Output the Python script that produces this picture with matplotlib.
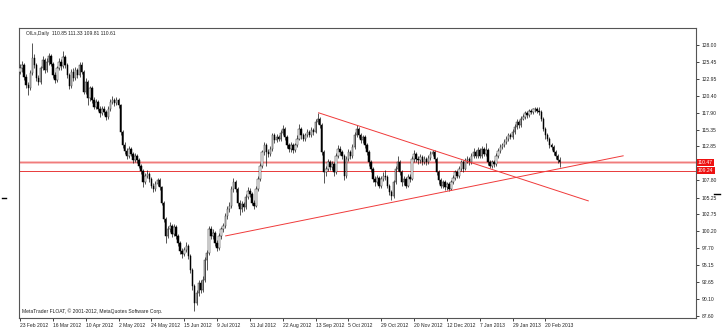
import numpy as np
import matplotlib
matplotlib.use("Agg")
import matplotlib.pyplot as plt
from matplotlib.lines import Line2D

plt.rcParams['font.family'] = ['Liberation Sans', 'DejaVu Sans']

# daily bars (open = previous close)
closes = [124.5, 125.0, 123.2, 122.0, 121.5, 123.8, 126.0, 125.0, 123.0, 122.5,
          124.5, 125.8, 124.2, 125.5, 126.3, 125.2, 123.5, 122.8, 124.5, 125.5,
          124.8, 126.2, 125.0, 123.5, 121.8, 124.0, 123.0, 124.2, 123.5, 125.0,
          124.0, 121.0, 122.5, 120.0, 121.5, 119.8, 118.8, 119.5, 118.5, 117.8,
          118.5, 118.0, 117.2, 118.5, 119.5, 119.8, 119.3, 119.8, 119.0, 115.0,
          113.0, 112.2, 111.5, 112.5, 111.8, 110.8, 111.5, 110.8, 110.0, 109.2,
          107.5, 108.5, 108.8, 108.0, 107.0, 106.5, 107.3, 107.8, 106.8, 104.5,
          102.0, 99.5, 100.5, 101.0, 99.8, 100.8, 99.5, 98.5, 97.3, 96.8,
          97.5, 98.0, 96.5, 94.5, 92.0, 89.5, 91.0, 92.5, 91.5, 93.0,
          96.0, 97.0, 100.5, 99.5, 100.0, 98.5, 97.8, 99.5, 100.5, 101.0,
          102.5, 103.5, 104.0, 106.5, 107.5, 106.5, 104.5, 103.5, 104.3, 103.8,
          105.3, 106.2, 105.8, 104.5, 104.0, 106.5, 108.0, 110.0, 112.0, 113.0,
          112.0, 111.8, 112.5, 114.5, 113.8, 114.3, 114.0, 114.8, 115.5, 114.2,
          113.0, 112.5, 113.0, 112.3, 113.0, 114.0, 115.5, 114.5, 114.0, 114.5,
          115.0, 114.6, 115.3, 115.0, 116.5, 117.0, 116.0, 112.0, 109.0, 109.5,
          110.5, 109.8, 110.2, 109.0, 111.5, 112.5, 112.0, 111.5, 108.5, 111.0,
          112.0, 111.5, 112.8, 114.5, 115.5, 114.5, 113.8, 114.2, 113.0, 112.0,
          110.5, 109.5, 108.0, 107.5, 108.2, 107.0, 108.0, 108.5, 108.3, 107.0,
          106.0, 105.5, 107.5, 109.5, 110.5, 109.0, 107.5, 108.0, 107.0, 108.3,
          108.0, 111.0, 111.8, 111.0, 110.8, 111.3, 110.5, 111.0, 110.5, 111.2,
          111.8, 112.0, 111.0, 109.0, 107.8, 107.0, 107.5, 106.8, 107.2, 106.5,
          107.5, 108.2, 109.0, 108.5, 109.5, 110.5, 109.5, 110.8, 111.0, 110.5,
          111.5, 112.0, 111.5, 112.3, 111.5, 112.5, 111.8, 112.3, 110.5, 110.0,
          110.5, 110.2, 111.5, 112.2, 112.8, 113.0, 113.5, 114.0, 114.5, 114.3,
          115.0, 115.8, 116.5, 116.0, 117.0, 117.3, 117.8, 117.5, 118.2, 118.0,
          118.4, 118.5, 118.2, 118.0, 117.0, 115.5, 114.5, 114.0, 113.0, 112.8,
          112.0, 111.5, 110.85, 110.61]

highs = [125.2, 125.6, 125.3, 123.6, 122.5, 124.2, 128.3, 126.6, 125.3, 123.5,
         124.9, 126.3, 126.0, 126.0, 126.8, 126.6, 125.5, 124.0, 124.9, 126.0,
         125.9, 127.0, 126.5, 125.3, 123.8, 124.4, 124.5, 124.7, 124.6, 125.5,
         125.4, 124.3, 123.0, 122.8, 121.9, 121.8, 120.2, 119.9, 119.8, 118.9,
         118.9, 118.9, 118.3, 118.9, 119.9, 120.3, 120.1, 120.2, 120.1, 119.2,
         115.3, 113.5, 112.6, 112.9, 112.8, 112.1, 111.9, 111.8, 111.1, 110.3,
         109.5, 108.9, 109.3, 109.1, 108.3, 107.4, 107.7, 108.2, 108.1, 107.0,
         104.8, 102.3, 101.0, 101.6, 101.3, 101.3, 101.1, 99.8, 98.8, 97.7,
         97.9, 98.6, 98.3, 96.8, 94.8, 92.3, 91.4, 93.0, 92.9, 93.5,
         96.4, 97.5, 101.0, 101.0, 100.6, 100.3, 98.9, 99.9, 100.9, 101.5,
         102.9, 104.0, 104.6, 106.9, 108.2, 107.8, 106.8, 104.9, 104.7, 104.6,
         105.8, 106.8, 106.6, 106.0, 104.9, 106.9, 108.4, 110.4, 112.4, 113.5,
         113.3, 112.5, 112.9, 114.9, 114.8, 114.7, 114.6, 115.3, 116.1, 115.8,
         114.5, 113.4, 113.5, 113.3, 113.4, 114.5, 116.2, 115.8, 114.9, 114.9,
         115.4, 115.3, 115.7, 115.6, 116.9, 117.9, 117.3, 116.3, 112.3, 110.0,
         111.0, 110.9, 110.7, 110.5, 111.9, 113.0, 112.9, 112.4, 111.8, 111.4,
         112.5, 112.4, 113.2, 115.0, 116.1, 115.8, 114.9, 114.6, 114.5, 113.3,
         112.3, 110.8, 109.8, 108.4, 108.6, 108.5, 108.4, 109.0, 109.4, 108.6,
         107.3, 106.4, 107.9, 109.9, 111.5, 110.8, 109.3, 108.5, 108.3, 108.7,
         108.8, 111.4, 112.3, 112.1, 111.4, 111.7, 111.6, 111.4, 111.3, 111.6,
         112.2, 112.4, 112.3, 111.3, 109.3, 108.1, 107.9, 107.8, 107.6, 107.5,
         107.9, 108.6, 109.4, 109.3, 109.9, 110.9, 110.8, 111.2, 111.5, 111.3,
         111.9, 112.6, 112.3, 112.7, 112.6, 112.9, 112.8, 113.4, 112.6, 110.9,
         110.9, 110.8, 111.9, 112.6, 113.2, 113.4, 113.9, 114.4, 114.9, 114.8,
         115.4, 116.2, 116.9, 116.8, 117.4, 117.7, 118.2, 118.1, 118.5, 118.5,
         118.6, 118.8, 118.7, 118.7, 118.3, 117.3, 115.8, 114.9, 114.3, 113.4,
         113.1, 112.4, 111.8, 111.33]

lows = [123.6, 124.0, 122.8, 121.5, 120.5, 121.2, 123.5, 124.5, 122.6, 122.0,
        122.2, 124.2, 123.8, 123.9, 125.0, 124.8, 123.0, 122.3, 122.5, 124.2,
        124.3, 124.5, 124.6, 123.0, 121.4, 121.5, 122.6, 122.7, 123.0, 123.2,
        123.6, 120.6, 120.7, 119.0, 119.7, 119.4, 118.4, 118.5, 118.1, 117.3,
        117.5, 117.6, 116.8, 117.0, 118.2, 119.2, 118.9, 119.0, 118.6, 114.6,
        112.6, 111.8, 111.0, 111.2, 111.4, 110.4, 110.5, 110.4, 109.6, 108.8,
        106.8, 107.2, 108.1, 107.6, 106.6, 106.0, 106.2, 107.0, 106.4, 104.1,
        101.6, 98.5, 99.2, 100.1, 99.4, 99.5, 99.1, 98.0, 96.9, 96.3,
        96.5, 97.1, 96.1, 94.0, 91.5, 88.3, 89.2, 90.6, 91.0, 91.2,
        92.7, 94.5, 96.7, 99.0, 99.1, 98.0, 97.3, 97.5, 99.1, 100.1,
        100.7, 102.1, 103.1, 103.7, 106.1, 106.0, 104.0, 102.6, 103.1, 103.3,
        103.5, 105.0, 105.3, 104.2, 103.6, 103.8, 106.2, 107.7, 109.7, 111.6,
        110.0, 111.3, 111.4, 112.2, 113.4, 113.5, 113.6, 113.7, 114.5, 113.8,
        112.6, 112.0, 112.1, 111.9, 112.0, 112.7, 113.8, 114.0, 113.6, 113.7,
        114.2, 114.2, 114.3, 114.6, 114.8, 116.2, 115.6, 111.6, 107.4, 108.5,
        109.2, 109.3, 109.4, 108.5, 108.8, 111.2, 111.6, 111.0, 107.8, 108.2,
        110.7, 111.0, 111.2, 112.5, 114.2, 114.1, 113.4, 113.4, 112.6, 111.6,
        110.0, 109.1, 107.6, 107.0, 107.2, 106.6, 106.7, 107.7, 107.9, 106.6,
        105.6, 104.9, 105.2, 107.2, 109.2, 108.6, 107.0, 107.1, 106.6, 106.8,
        107.6, 107.8, 110.6, 110.6, 110.3, 110.4, 110.1, 110.2, 110.1, 110.2,
        110.9, 111.4, 110.6, 108.6, 107.3, 106.6, 106.7, 106.4, 106.4, 106.2,
        106.3, 107.2, 107.9, 108.1, 108.2, 109.2, 109.1, 109.3, 110.4, 110.1,
        110.3, 111.2, 111.1, 111.2, 111.1, 111.2, 111.4, 111.5, 110.1, 109.6,
        109.7, 109.8, 110.0, 111.2, 111.9, 112.5, 112.7, 113.2, 113.7, 113.9,
        114.0, 114.7, 115.5, 115.6, 115.7, 116.8, 117.0, 117.1, 117.2, 117.7,
        117.7, 118.0, 117.8, 117.6, 116.6, 115.1, 114.0, 113.6, 112.6, 112.3,
        111.6, 111.0, 110.4, 109.81]

first_open = 124.0
date_labels = ["23 Feb 2012", "16 Mar 2012", "10 Apr 2012", "2 May 2012", "24 May 2012",
               "15 Jun 2012", "9 Jul 2012", "31 Jul 2012", "22 Aug 2012", "13 Sep 2012",
               "5 Oct 2012", "29 Oct 2012", "20 Nov 2012", "12 Dec 2012", "7 Jan 2013",
               "29 Jan 2013", "20 Feb 2013"]
label_step = 16
price_ticks = [128.00, 125.45, 122.95, 120.40, 117.90, 115.35, 112.85,
               107.80, 105.25, 102.75, 100.20, 97.70, 95.15, 92.65, 90.10, 87.60]
hlines = [110.47, 109.24]
# trend lines as (bar, price) pairs
trend_down = [(145.5, 117.87), (276.9, 104.75)]
trend_up = [(100.2, 99.53), (293.9, 111.46)]

closes = np.array(closes)
opens = np.concatenate([[first_open], closes[:-1]])
idx = np.arange(len(closes))

fig = plt.figure(figsize=(7.27, 3.34), dpi=100)
ax = fig.add_axes([19/727, 16/334, 677/727, 290/334])
ax.set_xlim(-0.5, 329.4)
ax.set_ylim(87.3, 130.5)

ax.vlines(idx, lows, highs, color="#111111", lw=0.5, zorder=3)
up = closes >= opens
bottom = np.minimum(opens, closes)
height = np.maximum(np.abs(closes - opens), 0.05)
ax.bar(idx[up], height[up], bottom=bottom[up], width=0.7, color="white",
       edgecolor="#222222", lw=0.35, zorder=4)
ax.bar(idx[~up], height[~up], bottom=bottom[~up], width=0.7, color="black",
       edgecolor="black", lw=0.35, zorder=4)

ax.axhline(hlines[0], color="#f6b0b0", lw=1.8, zorder=2)
ax.axhline(hlines[0], color="#ee6666", lw=0.5, zorder=2)
ax.axhline(hlines[1], color="#e83a3a", lw=0.7, zorder=2)

for line in (trend_down, trend_up):
    xs, ys = zip(*line)
    ax.plot(xs, ys, color="#f03a3a", lw=0.7, zorder=5)

ax.yaxis.tick_right()
ax.set_yticks(price_ticks)
ax.set_yticklabels(["%.2f" % p for p in price_ticks])
ax.tick_params(axis="y", labelsize=3.6, length=2, width=0.6, pad=2, colors="#222222")
ax.set_xticks(np.arange(len(date_labels)) * label_step)
ax.set_xticklabels(date_labels, ha="left")
ax.tick_params(axis="x", labelsize=3.6, length=2, width=0.6, pad=1.5, colors="#222222")
for s in ax.spines.values():
    s.set_color("#555555")
    s.set_linewidth(0.8)

for p in hlines:
    ax.text(1.003, p, "%.2f" % p, transform=ax.get_yaxis_transform(), fontsize=3.6,
            color="white", va="center", ha="left", zorder=10, clip_on=False,
            bbox=dict(boxstyle="square,pad=0.25", fc="#ee1111", ec="none"))

ax.text(3, 129.7, "OILs,Daily  110.85 111.33 109.81 110.61", fontsize=3.6, color="#222222",
        va="center", ha="left")
ax.text(1, 88.3, "MetaTrader FLOAT, \u00a9 2001-2012, MetaQuotes Software Corp.",
        fontsize=3.6, color="#222222", va="center", ha="left")

fig.add_artist(Line2D([2/727, 6/727], [136/334, 136/334], color="black", lw=1))
fig.add_artist(Line2D([714/727, 720/727], [140/334, 140/334], color="black", lw=1))

fig.savefig("out.png", dpi=100)
